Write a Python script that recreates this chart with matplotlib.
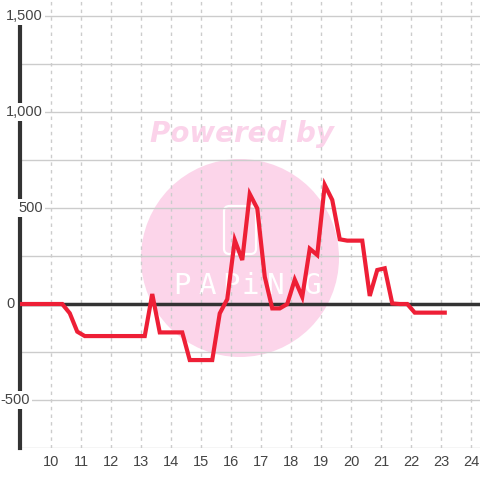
import numpy as np
import matplotlib
matplotlib.use("Agg")
import matplotlib.pyplot as plt
from matplotlib.patches import Ellipse, FancyBboxPatch

# quarter-hour samples (hour of day) and values
valores = [
    0, 0, 0, 0, 0, 0, 0,              # 8.875 - 10.375
    -48, -144,                        # 10.625 - 10.875
    -167, -167, -167, -167, -167, -167, -167, -167, -167,  # 11.125 - 13.125
    52, -148, -148, -148, -148,       # 13.375 - 14.375
    -292, -292, -292, -292,           # 14.625 - 15.375
    -49, 25, 333, 229, 573, 498, 142, -23, -23, 0,   # 15.625 - 17.875
    127, 37, 288, 255, 620, 542, 337, 330, 330, 330,  # 18.125 - 20.375
    42, 177, 186, 3, 0, 0,            # 20.625 - 21.875
    -45, -45, -45, -45, -45,          # 22.125 - 23.125
]
horas = 8.875 + 0.25 * np.arange(len(valores))

xticks = list(range(10, 25))
ytick_vals = [1500, 1000, 500, 0, -500]
ytick_txt = ["1,500", "1,000", "500", "0", "-500"]

fig = plt.figure(figsize=(4.8, 4.8), dpi=100)
W, H = 480, 480
ax = fig.add_axes([20 / W, 32 / H, 460 / W, 448 / H])
ax.set_xlim(10 - 31 / 30, 24 + 9 / 30)
ax.set_ylim(-750, 1500 + 16 / 96 * 500)

# watermark (behind grid)
ax_w, ax_h = 460, 448
def px(x, y):
    return ((x - 20) / ax_w, (480 - y - 32) / ax_h)

circ = Ellipse(px(240, 258), 198 / ax_w, 198 / ax_h,
               transform=ax.transAxes, facecolor="#fcd5ea", edgecolor="none", zorder=0.1)
ax.add_patch(circ)
icon = FancyBboxPatch(px(224, 254), 32 / ax_w, 48 / ax_h,
                      boxstyle="round,pad=0,rounding_size=0.012", transform=ax.transAxes,
                      facecolor="none", edgecolor="white", lw=1.6, zorder=0.15)
ax.add_patch(icon)
letras = "PAPiNG"
letras_x = [182, 207, 231, 250, 276, 312]
for ch, lx in zip(letras, letras_x):
    ax.text(*px(lx, 286), ch, transform=ax.transAxes, ha="center", va="center",
            fontsize=21, color="white", family="DejaVu Sans Mono", zorder=0.15)
ax.text(*px(242, 134), "Powered by", transform=ax.transAxes,
        ha="center", va="center", fontsize=20, color="#fbd3ea", family="DejaVu Sans",
        fontweight="bold", fontstyle="italic", zorder=0.15)

# grid
for v in np.arange(-750, 1501, 250):
    if v != 0:
        ax.axhline(v, color="#cccccc", lw=1, zorder=0.5)
for t in xticks:
    ax.axvline(t, color="#cccccc", lw=1, ls=(0, (2.5, 3)), zorder=0.5)

ax.axhline(0, color="#333333", lw=2.5, zorder=1)

ax.plot(horas, valores, color="#ee1f36", lw=3, solid_joinstyle="miter", zorder=3)

for s in ax.spines.values():
    s.set_visible(False)
ax.spines["left"].set_visible(True)
ax.spines["left"].set_color("#333333")
ax.spines["left"].set_linewidth(3)
ax.spines["left"].set_bounds(-750, 1458)
ax.spines["left"].set_zorder(2)

ax.set_xticks([])
ax.set_yticks([])

# x tick labels
for t in xticks:
    ax.text(t, -750 - 14 / 96 * 500, str(t), ha="center", va="center",
            fontsize=10.5, color="#444444", family="Liberation Sans", clip_on=False)

# y tick labels with white backing over the axis line
right_px = [43, 43, 43, 15, 30]
for v, txt, rx in zip(ytick_vals, ytick_txt, right_px):
    ax.text((rx - 20) / ax_w, v, txt, transform=ax.get_yaxis_transform(), ha="right",
            va="center", fontsize=10.5, color="#444444", family="Liberation Sans",
            zorder=4, clip_on=False,
            bbox=dict(facecolor="white", edgecolor="none", pad=1.5))

fig.savefig("out.png", dpi=100)
